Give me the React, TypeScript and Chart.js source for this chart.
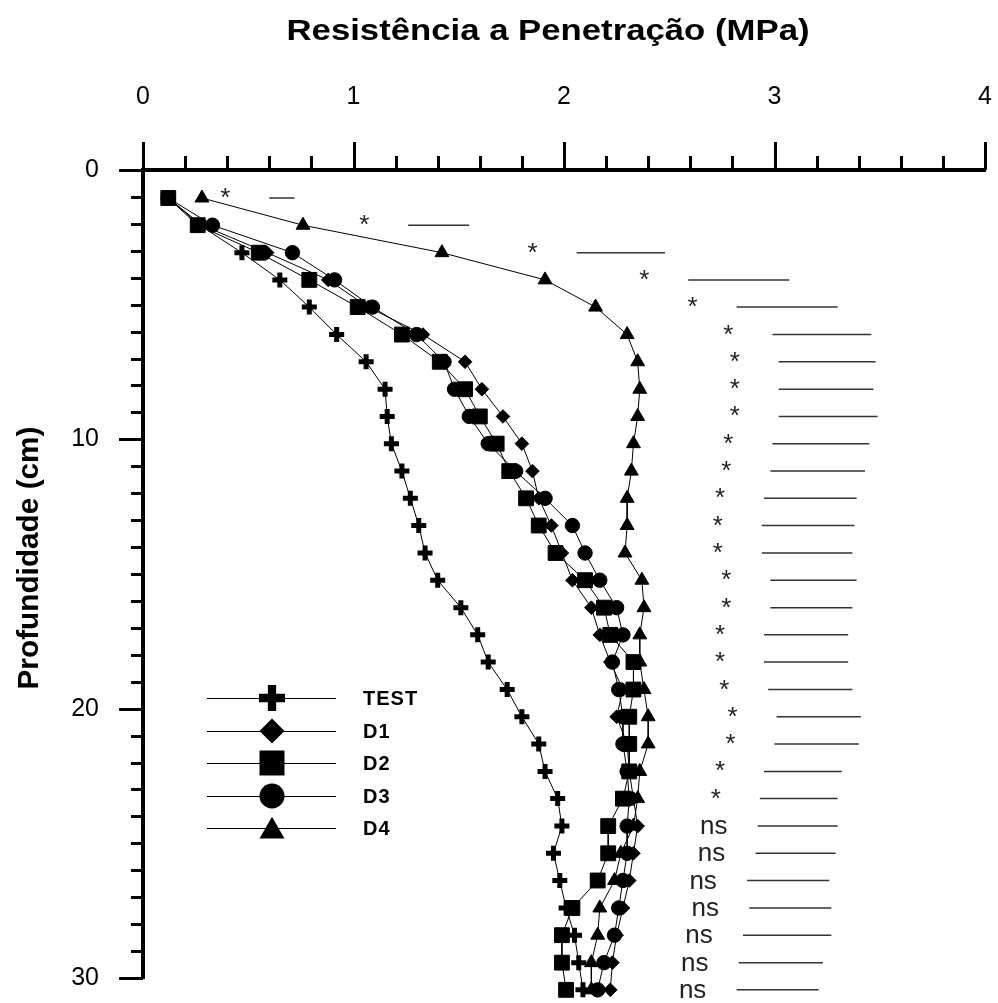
import React, { useEffect, useRef } from 'react';
import { Chart, registerables } from 'chart.js';

Chart.register(...registerables);

const depths = [1.04, 2.05, 3.07, 4.08, 5.09, 6.11, 7.12, 8.14, 9.15, 10.16,
  11.18, 12.19, 13.2, 14.22, 15.23, 16.25, 17.26, 18.27, 19.29, 20.3,
  21.31, 22.33, 23.34, 24.36, 25.37, 26.38, 27.4, 28.41, 29.43, 30.44];

// Penetration resistance (MPa) per series
const testValues = [0.12, 0.27, 0.47, 0.65, 0.79, 0.92, 1.06, 1.15, 1.16, 1.18,
  1.23, 1.27, 1.31, 1.34, 1.4, 1.51, 1.59, 1.64, 1.73, 1.8,
  1.88, 1.91, 1.97, 1.99, 1.95, 1.98, 2.01, 2.05, 2.07, 2.09];
const d1Values = [0.12, 0.28, 0.59, 0.88, 1.07, 1.33, 1.53, 1.61, 1.71, 1.8,
  1.85, 1.88, 1.94, 1.99, 2.04, 2.13, 2.17, 2.22, 2.28, 2.25,
  2.3, 2.31, 2.33, 2.35, 2.33, 2.31, 2.28, 2.25, 2.23, 2.22];
const d2Values = [0.12, 0.26, 0.55, 0.79, 1.02, 1.23, 1.41, 1.53, 1.6, 1.68,
  1.74, 1.82, 1.88, 1.96, 2.1, 2.19, 2.22, 2.33, 2.33, 2.31,
  2.31, 2.31, 2.28, 2.21, 2.21, 2.16, 2.04, 1.99, 1.99, 2.01];
const d3Values = [0.12, 0.33, 0.71, 0.91, 1.09, 1.3, 1.43, 1.48, 1.55, 1.64,
  1.77, 1.91, 2.04, 2.1, 2.17, 2.25, 2.28, 2.23, 2.26, 2.28,
  2.28, 2.3, 2.31, 2.3, 2.3, 2.28, 2.26, 2.24, 2.19, 2.16];
const d4Values = [0.28, 0.76, 1.42, 1.91, 2.15, 2.3, 2.35, 2.36, 2.35, 2.33,
  2.32, 2.3, 2.3, 2.29, 2.37, 2.38, 2.36, 2.36, 2.38, 2.4,
  2.4, 2.36, 2.35, 2.33, 2.27, 2.24, 2.17, 2.16, 2.13, 2.13];

// Significance label and the horizontal bar beside it, per depth
const sigLabels = ['*', '*', '*', '*', '*', '*', '*', '*', '*', '*',
  '*', '*', '*', '*', '*', '*', '*', '*', '*', '*',
  '*', '*', '*', 'ns', 'ns', 'ns', 'ns', 'ns', 'ns', 'ns'];
const barStart = [0.6, 1.26, 2.06, 2.59, 2.82, 2.99, 3.02, 3.02, 3.02, 2.99,
  2.98, 2.95, 2.94, 2.94, 2.98, 2.98, 2.95, 2.95, 2.97, 3.01,
  3.0, 2.95, 2.93, 2.92, 2.91, 2.87, 2.88, 2.85, 2.83, 2.82];
const barEnd = [0.72, 1.55, 2.48, 3.07, 3.3, 3.46, 3.48, 3.47, 3.49, 3.45,
  3.43, 3.39, 3.38, 3.37, 3.39, 3.37, 3.35, 3.35, 3.37, 3.41,
  3.4, 3.32, 3.3, 3.3, 3.29, 3.26, 3.27, 3.27, 3.23, 3.21];

const seriesNames = ['TEST', 'D1', 'D2', 'D3', 'D4'];
const seriesStyles = ['cross', 'rectRot', 'rect', 'circle', 'triangle'];
const xTickValues = [0, 1, 2, 3, 4];
const yTickValues = [0, 10, 20, 30];

const xTitle = 'Resistência a Penetração (MPa)';
const yTitle = 'Profundidade (cm)';
const FONT = '"Liberation Sans", Arial, sans-serif';

function drawMarker(ctx: CanvasRenderingContext2D, style: string, x: number, y: number, s: number) {
  ctx.save();
  ctx.fillStyle = '#000';
  ctx.beginPath();
  if (style === 'cross') {
    const t = s * 0.32;
    ctx.rect(x - t / 2, y - s / 2, t, s);
    ctx.rect(x - s / 2, y - t / 2, s, t);
  } else if (style === 'rectRot') {
    ctx.moveTo(x, y - s / 2);
    ctx.lineTo(x + s / 2, y);
    ctx.lineTo(x, y + s / 2);
    ctx.lineTo(x - s / 2, y);
    ctx.closePath();
  } else if (style === 'rect') {
    ctx.rect(x - s / 2, y - s / 2, s, s);
  } else if (style === 'circle') {
    ctx.arc(x, y, s / 2, 0, Math.PI * 2);
  } else {
    ctx.moveTo(x, y - s * 0.45);
    ctx.lineTo(x + s / 2, y + s * 0.42);
    ctx.lineTo(x - s / 2, y + s * 0.42);
    ctx.closePath();
  }
  ctx.fill();
  ctx.restore();
}

function fitText(ctx: CanvasRenderingContext2D, text: string, x: number, y: number, width: number) {
  const w = ctx.measureText(text).width;
  ctx.save();
  ctx.translate(x, y);
  ctx.scale(width / w, 1);
  ctx.fillText(text, 0, 0);
  ctx.restore();
}

// Let markers just below the last tick (deepest layer) still be drawn
const areaPlugin = {
  id: 'areaExtend',
  beforeDatasetsDraw(chart: any) {
    chart.$savedBottom = chart.chartArea.bottom;
    chart.chartArea.bottom = chart.chartArea.bottom + 30;
  },
  afterDatasetsDraw(chart: any) {
    if (chart.$savedBottom !== undefined) chart.chartArea.bottom = chart.$savedBottom;
  },
};

const decorPlugin = {
  id: 'decor',
  afterDraw(chart: any) {
    const ctx: CanvasRenderingContext2D = chart.ctx;
    const xs = chart.scales.x;
    const ys = chart.scales.y;
    const area = chart.chartArea;
    ctx.save();
    ctx.strokeStyle = '#000';
    ctx.lineCap = 'butt';
    // x ticks (pointing up)
    ctx.lineWidth = 3;
    for (let v = 0; v <= 4.0001; v += 0.2) {
      const px = Math.round(xs.getPixelForValue(v)) + 0.5;
      const major = Math.abs(v - Math.round(v)) < 1e-6;
      ctx.beginPath();
      ctx.moveTo(px, area.top);
      ctx.lineTo(px, area.top - (major ? 28 : 14));
      ctx.stroke();
    }
    // y ticks (pointing left)
    for (let v = 0; v <= 30.0001; v += 1) {
      const py = Math.round(ys.getPixelForValue(v)) + 0.5;
      const major = v % 10 === 0;
      ctx.beginPath();
      ctx.moveTo(area.left, py);
      ctx.lineTo(area.left - (major ? 24 : 12), py);
      ctx.stroke();
    }
    // Titles
    ctx.fillStyle = '#000';
    ctx.font = `bold 30px ${FONT}`;
    ctx.textAlign = 'center';
    ctx.textBaseline = 'middle';
    fitText(ctx, xTitle, 548, 32, 523);
    ctx.save();
    ctx.translate(30, 558);
    ctx.rotate(-Math.PI / 2);
    fitText(ctx, yTitle, 0, 0, 263);
    ctx.restore();

    // Significance labels
    ctx.font = `26px ${FONT}`;
    ctx.fillStyle = '#222';
    ctx.textAlign = 'center';
    ctx.textBaseline = 'alphabetic';
    sigLabels.forEach((lab, i) => {
      const px = xs.getPixelForValue(barStart[i]) - 44;
      const py = ys.getPixelForValue(depths[i]);
      ctx.fillText(lab, px, py + 8);
    });

    // Legend
    const rowsY = [698, 731, 763, 796, 828];
    ctx.font = `bold 20px ${FONT}`;
    ctx.textAlign = 'left';
    ctx.textBaseline = 'middle';
    ctx.fillStyle = '#000';
    (ctx as any).letterSpacing = '1px';
    seriesNames.forEach((name, i) => {
      const y = rowsY[i];
      ctx.lineWidth = 1;
      ctx.beginPath();
      ctx.moveTo(207, y + 0.5);
      ctx.lineTo(336, y + 0.5);
      ctx.stroke();
      drawMarker(ctx, seriesStyles[i], 272, y, seriesStyles[i] === 'cross' ? 26 : 25);
      ctx.fillText(name, 363, y + 1);
    });
    (ctx as any).letterSpacing = '0px';
    ctx.restore();
  },
};

export default function App() {
  const ref = useRef<HTMLCanvasElement | null>(null);
  useEffect(() => {
    if (!ref.current) return;
    const toPts = (vals: number[]) => vals.map((v, i) => ({ x: v, y: depths[i] }));
    const barPts: any[] = [];
    depths.forEach((d, i) => {
      barPts.push({ x: barStart[i], y: d });
      barPts.push({ x: barEnd[i], y: d });
      barPts.push({ x: barEnd[i], y: null });
    });
    const seriesVals = [testValues, d1Values, d2Values, d3Values, d4Values];
    const radii = [7.5, 6.8, 10.5, 7.2, 8];
    const datasets: any[] = seriesVals.map((vals, i) => ({
      label: seriesNames[i],
      data: toPts(vals),
      showLine: true,
      borderColor: '#000',
      borderWidth: 1,
      backgroundColor: '#000',
      pointStyle: seriesStyles[i],
      pointRadius: radii[i],
      pointBorderWidth: seriesStyles[i] === 'cross' ? 5 : 1,
      pointBorderColor: '#000',
      pointBackgroundColor: '#000',
      clip: false,
    }));
    datasets.push({
      label: 'sig',
      data: barPts,
      showLine: true,
      spanGaps: false,
      borderColor: '#333',
      borderWidth: 1.5,
      pointRadius: 0,
      clip: false,
    });
    const chart = new Chart(ref.current, {
      type: 'scatter',
      data: { datasets },
      options: {
        responsive: false,
        animation: false,
        layout: { padding: { left: 0, right: 13, top: 0, bottom: 25 } },
        plugins: { legend: { display: false }, tooltip: { enabled: false } },
        scales: {
          x: {
            type: 'linear',
            position: 'top',
            min: 0,
            max: 4,
            grid: { display: false, drawTicks: false },
            border: { display: true, width: 4, color: '#000' },
            ticks: {
              stepSize: 1,
              padding: 58,
              color: '#000',
              font: { family: FONT, size: 25 },
              callback: (v: any) => (xTickValues.includes(Number(v)) ? String(v) : ''),
            },
            afterFit: (s: any) => { s.height = 170; s.paddingLeft = 0; s.paddingRight = 0; },
          },
          y: {
            type: 'linear',
            reverse: true,
            min: 0,
            max: 30,
            grid: { display: false, drawTicks: false },
            border: { display: true, width: 4, color: '#000' },
            ticks: {
              stepSize: 10,
              padding: 44,
              color: '#000',
              font: { family: FONT, size: 25 },
              callback: (v: any) => (yTickValues.includes(Number(v)) ? String(v) : ''),
            },
            afterFit: (s: any) => { s.width = 143; s.paddingTop = 0; s.paddingBottom = 0; },
          },
        },
      },
      plugins: [areaPlugin, decorPlugin],
    });
    return () => chart.destroy();
  }, []);
  return (
    <div style={{ position: 'fixed', left: 0, top: 0, width: 998, height: 1003, background: '#fff' }}>
      <canvas ref={ref} width={998} height={1003} />
    </div>
  );
}
